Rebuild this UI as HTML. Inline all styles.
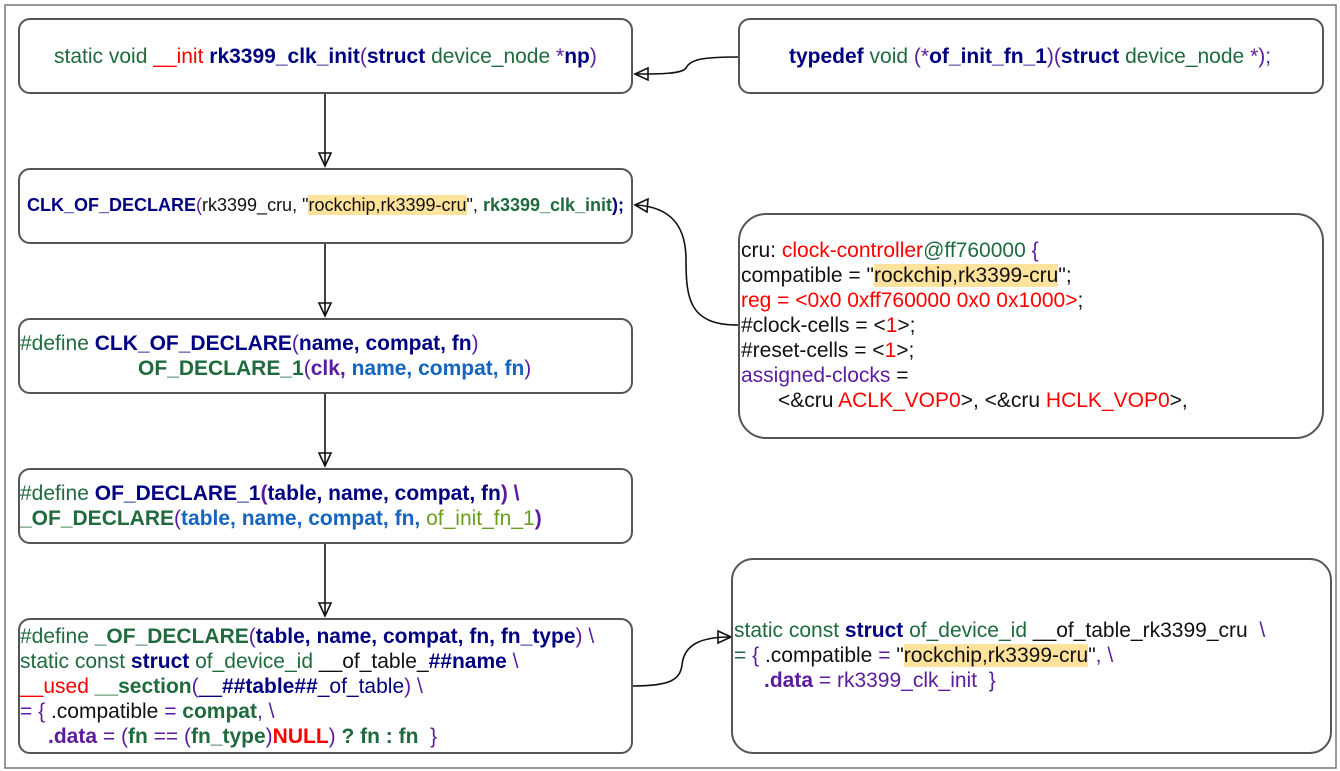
<!DOCTYPE html>
<html><head><meta charset="utf-8"><style>
html,body{margin:0;padding:0;background:#fff;}
body{width:1340px;height:771px;position:relative;overflow:hidden;font-family:"Liberation Sans",Arial,sans-serif;}
.b{position:absolute;border:2px solid #555;border-radius:12px;box-sizing:border-box;}
.t{position:absolute;font-size:21px;white-space:pre;line-height:25px;letter-spacing:0px;}
.g{color:#1f6b3d}.n{color:#000080;font-weight:bold}.nb{color:#000080}.r{color:#f00}.p{color:#5b1b9e}.bl{color:#1565c0;font-weight:bold}.o{color:#6b9e1f}.k{color:#111}.gb{color:#1f6b3d;font-weight:bold}
.h{background:#ffe29c}
svg{position:absolute;left:0;top:0}
</style></head><body>
<svg width="1340" height="771">
<rect x="5" y="5" width="1331" height="763" fill="none" stroke="#777" stroke-width="1.5"/>
<g fill="none" stroke="#111" stroke-width="1.6">
<path d="M325 93 L325 165"/><path d="M319 153 L325 166 L331 153 Z"/>
<path d="M325 243 L325 315"/><path d="M319 303 L325 316 L331 303 Z"/>
<path d="M325 393 L325 465"/><path d="M319 453 L325 466 L331 453 Z"/>
<path d="M325 543 L325 615"/><path d="M319 603 L325 616 L331 603 Z"/>
<path d="M738 57 C700 57 690 60 686 68 C682 74 660 74 636 74"/><path d="M648 68 L635 74 L648 80 Z"/>
<path d="M738 325 C690 325 686 300 686 260 C686 225 670 207 636 205"/><path d="M648 199 L635 205 L647 212 Z"/>
<path d="M632 686 C670 686 680 680 682 665 C684 645 700 637 730 637"/><path d="M718 631 L731 637 L718 643 Z"/>
</g>
</svg>
<div class="b" style="left:18px;top:18px;width:615px;height:76px"></div>
<div class="b" style="left:18px;top:168px;width:615px;height:76px"></div>
<div class="b" style="left:18px;top:318px;width:615px;height:76px"></div>
<div class="b" style="left:18px;top:468px;width:615px;height:76px"></div>
<div class="b" style="left:18px;top:618px;width:615px;height:136px"></div>
<div class="b" style="left:738px;top:18px;width:586px;height:76px"></div>
<div class="b" style="left:738px;top:213px;width:586px;height:226px;border-radius:28px"></div>
<div class="b" style="left:731px;top:558px;width:601px;height:196px;border-radius:22px"></div>

<div class="t" style="left:54px;top:44px"><span class="g">static void </span><span class="r">__init </span><span class="n">rk3399_clk_init</span><span class="p">(</span><span class="n">struct</span><span class="g"> device_node </span><span class="p">*</span><span class="n">np</span><span class="p">)</span></div>

<div class="t" style="left:27px;top:193px;font-size:18px"><span class="n">CLK_OF_DECLARE</span><span class="p">(</span><span class="k">rk3399_cru, "</span><span class="k h">rockchip,rk3399-cru</span><span class="k">", </span><span class="gb">rk3399_clk_init</span><span class="n">);</span></div>

<div class="t" style="left:20px;top:331px"><span class="g">#define </span><span class="n">CLK_OF_DECLARE</span><span class="p">(</span><span class="n">name, compat, fn</span><span class="p">)</span></div>
<div class="t" style="left:138px;top:356px"><span class="gb">OF_DECLARE_1</span><span class="p">(</span><span class="p" style="font-weight:bold">clk, </span><span class="bl">name, compat, fn</span><span class="p">)</span></div>

<div class="t" style="left:20px;top:481px"><span class="g">#define </span><span class="n">OF_DECLARE_1</span><span class="p" style="font-weight:bold">(</span><span class="n">table, name, compat, fn</span><span class="p" style="font-weight:bold">) \</span></div>
<div class="t" style="left:20px;top:506px"><span class="gb">_OF_DECLARE</span><span class="p">(</span><span class="bl">table, name, compat, fn, </span><span class="o">of_init_fn_1</span><span class="p" style="font-weight:bold">)</span></div>

<div class="t" style="left:20px;top:624px"><span class="g">#define </span><span class="gb">_OF_DECLARE</span><span class="p">(</span><span class="n">table, name, compat, fn, fn_type</span><span class="p">) \</span></div>
<div class="t" style="left:20px;top:649px"><span class="g">static const </span><span class="n">struct</span><span class="g"> of_device_id </span><span class="k">__of_table_</span><span class="n">##name</span><span class="p"> \</span></div>
<div class="t" style="left:20px;top:674px"><span class="r">__used </span><span class="gb">__section</span><span class="p">(</span><span class="nb">__</span><span class="n">##table##</span><span class="nb">_of_table</span><span class="p">) \</span></div>
<div class="t" style="left:20px;top:699px"><span class="p">= { </span><span class="k">.compatible </span><span class="p">= </span><span class="gb">compat</span><span class="p">, \</span></div>
<div class="t" style="left:48px;top:724px"><span class="p" style="font-weight:bold">.data </span><span class="p">= (</span><span class="gb">fn </span><span class="p">== (</span><span class="gb">fn_type</span><span class="p">)</span><span class="r" style="font-weight:bold">NULL</span><span class="p">) </span><span class="gb">? fn : fn</span><span class="p">  }</span></div>

<div class="t" style="left:789px;top:44px"><span class="n">typedef</span><span class="g"> void </span><span class="p">(*</span><span class="n">of_init_fn_1</span><span class="p">)(</span><span class="n">struct</span><span class="g"> device_node </span><span class="p">*);</span></div>

<div class="t" style="left:741px;top:238px"><span class="k">cru: </span><span class="r">clock-controller</span><span class="g">@ff760000 </span><span class="p">{</span></div>
<div class="t" style="left:741px;top:263px"><span class="k">compatible = "</span><span class="k h">rockchip,rk3399-cru</span><span class="k">";</span></div>
<div class="t" style="left:741px;top:288px"><span class="r">reg = &lt;0x0 0xff760000 0x0 0x1000&gt;</span><span class="k">;</span></div>
<div class="t" style="left:741px;top:313px"><span class="k">#clock-cells = &lt;</span><span class="r">1</span><span class="k">&gt;;</span></div>
<div class="t" style="left:741px;top:338px"><span class="k">#reset-cells = &lt;</span><span class="r">1</span><span class="k">&gt;;</span></div>
<div class="t" style="left:741px;top:363px"><span class="p">assigned-clocks </span><span class="k">=</span></div>
<div class="t" style="left:778px;top:388px"><span class="k">&lt;&amp;cru </span><span class="r">ACLK_VOP0</span><span class="k">&gt;, &lt;&amp;cru </span><span class="r">HCLK_VOP0</span><span class="k">&gt;,</span></div>

<div class="t" style="left:734px;top:618px"><span class="g">static const </span><span class="n">struct</span><span class="g"> of_device_id </span><span class="k">__of_table_rk3399_cru  </span><span class="p">\</span></div>
<div class="t" style="left:734px;top:643px"><span class="g">= </span><span class="p">{ </span><span class="k">.compatible </span><span class="p">= </span><span class="k">"</span><span class="k h">rockchip,rk3399-cru</span><span class="k">"</span><span class="p">, \</span></div>
<div class="t" style="left:764px;top:668px"><span class="p" style="font-weight:bold">.data </span><span class="p">= rk3399_clk_init  }</span></div>
</body></html>
